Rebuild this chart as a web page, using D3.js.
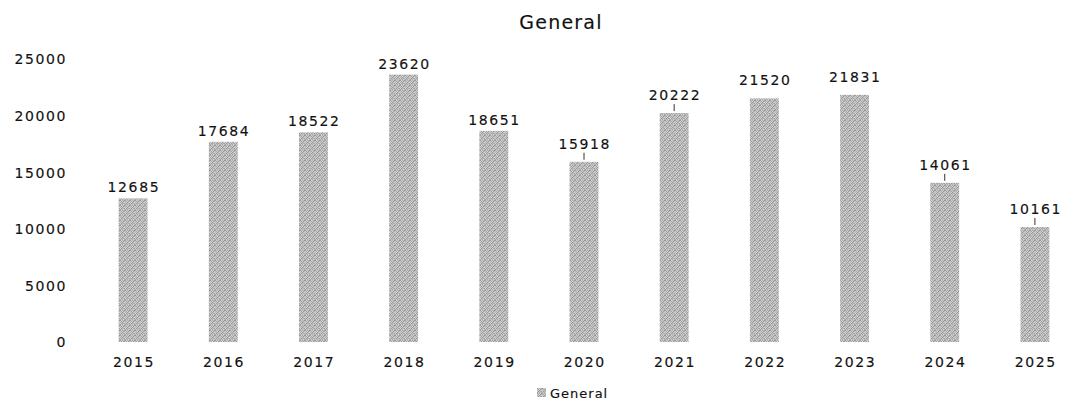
<!DOCTYPE html>
<html>
<head>
<meta charset="utf-8">
<script src="https://cdn.jsdelivr.net/npm/d3@7"></script>
<style>
  body { margin: 0; background: #fff; }
  svg { display: block; }
  text { font-family: "DejaVu Sans", Verdana, sans-serif; fill: #111; stroke: #111; stroke-width: 0.15px; }
</style>
</head>
<body>
<div id="chart"></div>
<script>
const years = ["2015", "2016", "2017", "2018", "2019", "2020", "2021", "2022", "2023", "2024", "2025"];
const general = [12685, 17684, 18522, 23620, 18651, 15918, 20222, 21520, 21831, 14061, 10161];
const yTicks = [0, 5000, 10000, 15000, 20000, 25000];
// years whose value label sits a little higher
const raisedYears = ["2020", "2021", "2022", "2023", "2024", "2025"];
// of those, the ones joined to their bar by a short leader
const leaderYears = ["2020", "2021", "2024", "2025"];

const W = 1071, H = 401;
const svg = d3.select("#chart").append("svg").attr("width", W).attr("height", H);

// grainy grey fill for the bars (fixed irregular 5x5 stipple tile)
const tile = [
  "#9e9e9e", "#cfcfcf", "#b3b3b3", "#c4c4c4", "#939393",
  "#c8c8c8", "#a4a4a4", "#d4d4d4", "#999999", "#bcbcbc",
  "#b7b7b7", "#d0d0d0", "#959595", "#c0c0c0", "#d6d6d6",
  "#d2d2d2", "#989898", "#c3c3c3", "#b0b0b0", "#a1a1a1",
  "#a8a8a8", "#c6c6c6", "#ababab", "#d3d3d3", "#b9b9b9"
];
const defs = svg.append("defs");
const pat = defs.append("pattern").attr("id", "grain")
  .attr("patternUnits", "userSpaceOnUse").attr("width", 5).attr("height", 5);
tile.forEach((c, i) => {
  pat.append("rect").attr("x", i % 5).attr("y", Math.floor(i / 5))
    .attr("width", 1).attr("height", 1).attr("fill", c);
});

const x = d3.scaleBand().domain(years).range([88, 1080]).paddingInner(0.68).paddingOuter(0.34);
const y = d3.scaleLinear().domain([0, 25000]).range([342, 59]);

const labelStyle = sel => sel
  .style("font-size", "14px")
  .style("letter-spacing", "1.6px")
  .style("font-family", "'DejaVu Sans', Verdana, sans-serif")
  .attr("fill", "#111");

// y axis labels only, no line or ticks
const yAxis = svg.append("g").attr("transform", "translate(67,0)")
  .call(d3.axisLeft(y).tickValues(yTicks).tickSize(0).tickPadding(0).tickFormat(d3.format("d")));
yAxis.select(".domain").remove();
yAxis.selectAll("text").call(labelStyle).attr("dy", "0.35em").attr("text-anchor", "end");

// x axis labels
const xAxis = svg.append("g").attr("transform", "translate(0,362)")
  .call(d3.axisBottom(x).tickSize(0).tickPadding(0));
xAxis.select(".domain").remove();
xAxis.selectAll("text").call(labelStyle).attr("dy", "0.35em").attr("dx", "0.8px");

const data = years.map((yr, i) => ({ yr, v: general[i] }));

svg.append("g").selectAll("rect").data(data).join("rect")
  .attr("x", d => x(d.yr)).attr("width", x.bandwidth())
  .attr("y", d => y(d.v)).attr("height", d => y(0) - y(d.v))
  .attr("fill", "url(#grain)");

// value labels
const lab = svg.append("g");
data.forEach(d => {
  const cx = x(d.yr) + x.bandwidth() / 2;
  const raised = raisedYears.includes(d.yr);
  const ty = y(d.v) - (raised ? 13 : 6);
  if (leaderYears.includes(d.yr)) {
    lab.append("line").attr("x1", cx).attr("x2", cx)
      .attr("y1", y(d.v) - 2).attr("y2", y(d.v) - 9)
      .attr("stroke", "#333").attr("stroke-width", 1);
  }
  lab.append("text").attr("x", cx + 0.8).attr("y", ty)
    .attr("text-anchor", "middle").call(labelStyle).text(d.v);
});

// title
svg.append("text").attr("x", 561).attr("y", 29).attr("text-anchor", "middle")
  .style("font-size", "19px").style("letter-spacing", "1.2px").text("General");

// legend
const lg = svg.append("g").attr("transform", "translate(537,388)");
lg.append("rect").attr("width", 9).attr("height", 9).attr("fill", "url(#grain)");
lg.append("text").attr("x", 13).attr("y", 5).attr("dy", "0.35em")
  .style("font-size", "13px").style("letter-spacing", "1px").text("General");
</script>
</body>
</html>
